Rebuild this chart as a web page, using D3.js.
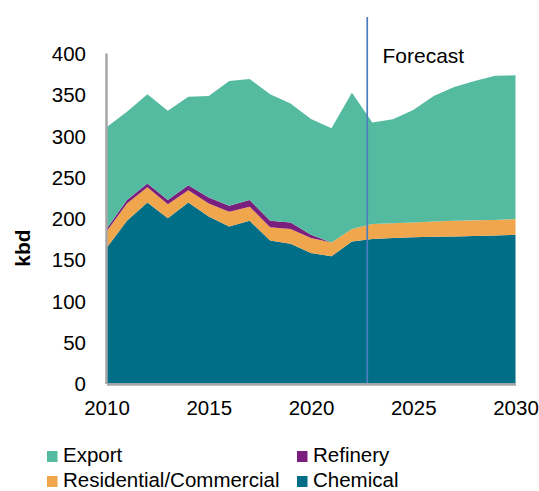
<!DOCTYPE html>
<meta charset="utf-8">
<style>
body { margin: 0; background: #fff; }
text { font-family: "Liberation Sans", Arial, sans-serif; fill: #000; }
</style>
<svg width="539" height="491"></svg>
<script src="https://d3js.org/d3.v7.min.js"></script>
<script>

var years = d3.range(2010, 2031);
var chemical = [164, 197, 219, 200, 219, 202, 190, 197, 173, 169, 158, 154, 172, 175, 176, 177, 177.5, 178, 178.5, 179, 180];
var residential = [20, 21, 18.5, 17, 15, 16, 18, 17, 16, 18, 18, 16.5, 15, 18, 18, 18, 18.5, 19, 19, 19, 19];
var refinery = [3, 4, 4.5, 5, 6, 7, 7, 8, 8, 8, 4, 0, 0, 0, 0, 0, 0, 0, 0, 0, 0];
var exportSeries = [123, 107, 108, 108, 107, 123, 151, 146.5, 153, 144, 140, 138.5, 165, 123, 125.7, 136, 152, 162, 168.5, 174.5, 174];
var yTicks = [0, 50, 100, 150, 200, 250, 300, 350, 400];
var xTicks = [2010, 2015, 2020, 2025, 2030];
var forecastYear = 2022.75;

var keys = ["Chemical", "Residential/Commercial", "Refinery", "Export"];
var colors = {
	"Chemical": "#006e87",
	"Residential/Commercial": "#f0a64c",
	"Refinery": "#7b1f7e",
	"Export": "#55bba0"
};

var table = years.map(function(y, i) {
	return {
		year: y,
		"Chemical": chemical[i],
		"Residential/Commercial": residential[i],
		"Refinery": refinery[i],
		"Export": exportSeries[i]
	};
});

var fontSize = "20.5px",
	labelSize = "21px";

var svg = d3.select("svg");

var x = d3.scaleLinear().domain([2010, 2030]).range([106.5, 515.5]),
	y = d3.scaleLinear().domain([0, 400]).range([383.5, 53]);

var stack = d3.stack().keys(keys);
var series = stack(table);

var area = d3.area()
	.x(function(d) { return x(d.data.year); })
	.y0(function(d) { return y(d[0]); })
	.y1(function(d) { return y(d[1]); });

svg.append("g")
	.selectAll("path")
	.data(series)
	.enter().append("path")
		.attr("d", area)
		.attr("fill", function(d) { return colors[d.key]; });

// axes
var yAxis = svg.append("g")
	.attr("transform", "translate(106,0)")
	.call(d3.axisLeft(y).tickValues(yTicks).tickSize(0).tickPadding(20));
yAxis.select(".domain").attr("stroke", "#a6a6a6").attr("stroke-width", 2.5);
yAxis.selectAll("text").style("font-size", fontSize).attr("dy", "0.36em");

var xAxis = svg.append("g")
	.attr("transform", "translate(0,384)")
	.call(d3.axisBottom(x).tickValues(xTicks).tickFormat(d3.format("d")).tickSize(0).tickPadding(16));
xAxis.select(".domain").attr("stroke", "#a6a6a6").attr("stroke-width", 2.5);
xAxis.selectAll("text").style("font-size", fontSize);

svg.append("text")
	.attr("transform", "translate(30,248) rotate(-90)")
	.attr("text-anchor", "middle")
	.style("font-size", labelSize)
	.style("font-weight", "bold")
	.text("kbd");

// forecast marker
svg.append("line")
	.attr("x1", x(forecastYear)).attr("x2", x(forecastYear))
	.attr("y1", 17).attr("y2", 383)
	.attr("stroke", "#4a7ebf")
	.attr("stroke-width", 1.7);

svg.append("text")
	.attr("x", 382.5)
	.attr("y", 63)
	.style("font-size", labelSize)
	.text("Forecast");

// legend
var legendItems = [
	{key: "Export", x: 47, y: 451},
	{key: "Refinery", x: 297, y: 451},
	{key: "Residential/Commercial", x: 47, y: 476},
	{key: "Chemical", x: 297, y: 476}
];

var legend = svg.append("g")
	.selectAll("g")
	.data(legendItems)
	.enter().append("g")
		.attr("transform", function(d) { return "translate(" + d.x + "," + d.y + ")"; });

legend.append("rect")
	.attr("width", 10.5)
	.attr("height", 11)
	.attr("fill", function(d) { return colors[d.key]; });

legend.append("text")
	.attr("x", 16)
	.attr("y", 11)
	.style("font-size", fontSize)
	.text(function(d) { return d.key; });

</script>
